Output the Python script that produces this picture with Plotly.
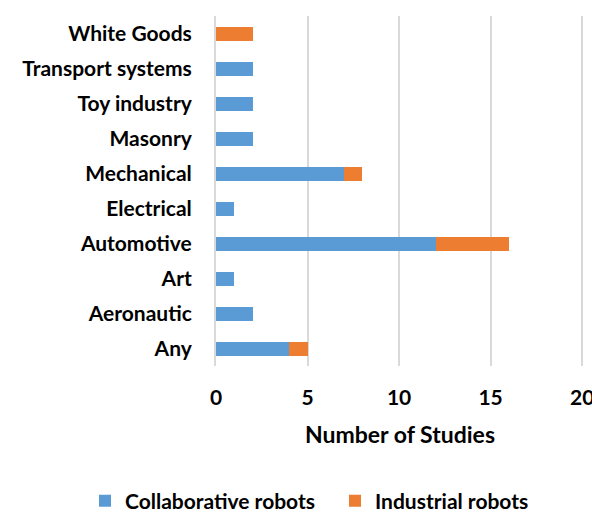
import plotly.graph_objects as go

categories = ["Any", "Aeronautic", "Art", "Automotive", "Electrical", "Mechanical",
              "Masonry", "Toy industry", "Transport systems", "White Goods"]
collaborative = [4, 2, 1, 12, 1, 7, 2, 2, 2, 0]
industrial = [1, 0, 0, 4, 0, 1, 0, 0, 0, 2]
x_ticks = [0, 5, 10, 15, 20]

FONT = "Lato"
L, R, T, B = 216, 8, 16, 147
PW, PH = 592 - L - R, 513 - T - B

fig = go.Figure()
fig.add_trace(go.Bar(y=categories, x=collaborative, orientation="h", name="Collaborative robots",
                     marker=dict(color="#5B9BD5", line=dict(width=0))))
fig.add_trace(go.Bar(y=categories, x=industrial, orientation="h", name="Industrial robots",
                     marker=dict(color="#ED7D31", line=dict(width=0))))

fig.update_layout(
    barmode="stack",
    bargap=0.6,
    width=592, height=513,
    margin=dict(l=L, r=R, t=T, b=B, autoexpand=False),
    plot_bgcolor="white", paper_bgcolor="white",
    font=dict(family=FONT, size=21, color="#000000"),
    xaxis=dict(range=[0, 20.1], tickvals=x_ticks, showgrid=True, gridcolor="#D9D9D9", gridwidth=2,
               zeroline=False, showline=False, ticks="", ticklabelstandoff=17, automargin=False,
               ticklabeloverflow="allow",
               tickfont=dict(family=FONT, size=21, weight="bold"),
               title=dict(text="Number of Studies", font=dict(family=FONT, size=23, weight="bold"), standoff=18)),
    yaxis=dict(showgrid=False, showline=True, linecolor="#D9D9D9", linewidth=2, ticks="",
               automargin=False,
               ticklabelstandoff=18, tickfont=dict(family=FONT, size=21, weight="bold")),
    legend=dict(orientation="h", xanchor="left", yanchor="middle",
                x=(85 - L) / PW, y=(T + PH - 501) / PH,
                font=dict(family=FONT, size=21, weight="bold"), traceorder="normal",
                itemwidth=30, entrywidth=205, entrywidthmode="pixels"),
    showlegend=True,
)
fig.write_html("out.html")
